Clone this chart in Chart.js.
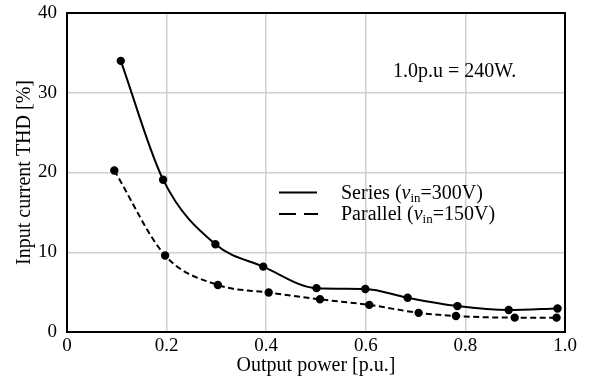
<!DOCTYPE html>
<html>
<head>
<meta charset="utf-8">
<script src="https://cdn.jsdelivr.net/npm/chart.js@4.4.1/dist/chart.umd.min.js"></script>
<style>
  html, body { margin: 0; padding: 0; background: #fff; }
  #wrap { width: 590px; height: 378px; position: relative; }
</style>
</head>
<body>
<div id="wrap"><canvas id="c" width="590" height="378"></canvas></div>
<script>
// ---- data ----
const seriesX   = [0.108, 0.193, 0.298, 0.394, 0.501, 0.599, 0.684, 0.784, 0.887, 0.985];
const seriesY   = [34.0, 19.1, 11.0, 8.2, 5.5, 5.4, 4.3, 3.25, 2.75, 2.95];
const parallelX = [0.095, 0.197, 0.303, 0.405, 0.508, 0.607, 0.706, 0.781, 0.899, 0.983];
const parallelY = [20.25, 9.6, 5.9, 4.95, 4.1, 3.4, 2.4, 2.0, 1.8, 1.8];
const xTicks = [0, 0.2, 0.4, 0.6, 0.8, 1.0];
const xTickLabels = ['0', '0.2', '0.4', '0.6', '0.8', '1.0'];
const yTicks = [0, 10, 20, 30, 40];
const seriesNames = ['Series', 'Parallel'];
const seriesVoltages = ['=300V)', '=150V)'];
const xTitle = 'Output power [p.u.]';
const yTitle = 'Input current THD [%]';
const note = '1.0p.u = 240W.';

const FONT = "'Liberation Serif', 'Times New Roman', serif";

function pts(xs, ys) { return xs.map((x, i) => ({ x: x, y: ys[i] })); }

const boxPlugin = {
  id: 'box',
  afterDatasetsDraw(chart) {
    const { ctx, chartArea: a } = chart;
    ctx.save();
    ctx.strokeStyle = '#000';
    ctx.lineWidth = 2;
    ctx.strokeRect(a.left, a.top, a.right - a.left, a.bottom - a.top);
    ctx.restore();
  }
};

function richText(ctx, x, y, parts) {
  let cx = x;
  for (const p of parts) {
    ctx.font = p.font;
    ctx.fillText(p.t, cx, y + (p.dy || 0));
    cx += ctx.measureText(p.t).width;
  }
}

const legendPlugin = {
  id: 'customLegend',
  afterDraw(chart) {
    const { ctx } = chart;
    ctx.save();
    ctx.fillStyle = '#000';
    ctx.strokeStyle = '#000';
    ctx.lineWidth = 2;
    ctx.textBaseline = 'alphabetic';
    ctx.setLineDash([]);
    ctx.beginPath(); ctx.moveTo(279, 192.5); ctx.lineTo(317, 192.5); ctx.stroke();
    ctx.beginPath(); ctx.moveTo(279, 214); ctx.lineTo(296, 214); ctx.moveTo(304, 214); ctx.lineTo(318, 214); ctx.stroke();
    const rows = [199, 220];
    for (let i = 0; i < 2; i++) {
      richText(ctx, 341, rows[i], [
        { t: seriesNames[i] + ' (', font: '20px ' + FONT },
        { t: 'v', font: 'italic 20px ' + FONT },
        { t: 'in', font: '13px ' + FONT, dy: 3 },
        { t: seriesVoltages[i], font: '20px ' + FONT }
      ]);
    }
    ctx.font = '20px ' + FONT;
    ctx.fillText(note, 393, 77);
    ctx.restore();
  }
};

new Chart(document.getElementById('c'), {
  type: 'line',
  data: {
    datasets: [
      {
        label: seriesNames[0],
        data: pts(seriesX, seriesY),
        borderColor: '#000', backgroundColor: '#000',
        borderWidth: 2, pointRadius: 3.2, pointHoverRadius: 3.2,
        cubicInterpolationMode: 'monotone', fill: false
      },
      {
        label: seriesNames[1],
        data: pts(parallelX, parallelY),
        borderColor: '#000', backgroundColor: '#000',
        borderWidth: 2, borderDash: [6, 3.5], pointRadius: 3.2, pointHoverRadius: 3.2,
        cubicInterpolationMode: 'monotone', fill: false
      }
    ]
  },
  options: {
    responsive: false,
    animation: false,
    layout: { padding: { top: 13, right: 25, left: 0, bottom: 0 } },
    plugins: { legend: { display: false }, tooltip: { enabled: false } },
    scales: {
      x: {
        type: 'linear', min: 0, max: 1,
        afterBuildTicks(s) { s.ticks = xTicks.map(v => ({ value: v })); },
        afterFit(s) { s.height = 46; s.paddingLeft = 0; s.paddingRight = 0; },
        ticks: {
          color: '#000', padding: 3,
          font: { family: FONT, size: 19 },
          callback(v) { const i = xTicks.indexOf(v); return i >= 0 ? xTickLabels[i] : ''; }
        },
        grid: { color: '#d0d0d0', lineWidth: 1.5, drawTicks: false },
        border: { display: false },
        title: { display: true, text: xTitle, color: '#000', font: { family: FONT, size: 20 }, padding: { top: 0, bottom: 0 } }
      },
      y: {
        type: 'linear', min: 0, max: 40,
        afterBuildTicks(s) { s.ticks = yTicks.map(v => ({ value: v })); },
        afterFit(s) { s.width = 67; s.paddingTop = 0; s.paddingBottom = 0; },
        ticks: { color: '#000', padding: 10, font: { family: FONT, size: 19 } },
        grid: { color: '#d0d0d0', lineWidth: 1.5, drawTicks: false },
        border: { display: false },
        title: { display: true, text: yTitle, color: '#000', font: { family: FONT, size: 20 }, padding: { top: 13, bottom: 0 } }
      }
    }
  },
  plugins: [boxPlugin, legendPlugin]
});
</script>
</body>
</html>
